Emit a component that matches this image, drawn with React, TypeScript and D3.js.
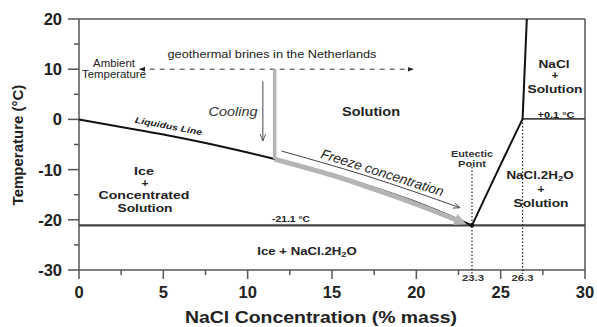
import React from 'react';
import * as d3 from 'd3';

// phase diagram data
const liquidusConc = [0, 2.5, 5, 7.5, 10, 11.6, 15, 17.5, 20, 23.3];
const liquidusTemp = [0, -1.5, -3.0, -4.7, -6.6, -7.9, -10.9, -13.6, -16.5, -21.1];
const hydrohaliteConc = [23.3, 24.8, 26.3];
const hydrohaliteTemp = [-21.1, -10.4, 0.1];
const halite = [26.3, 26.55];
const haliteTemp = [0.1, 20];
const eutecticTemp = -21.1;
const eutecticConc = 23.3;
const transitionConc = 26.3;
const transitionTemp = 0.1;

// process paths
const coolingBrineConc = 11.6;
const coolingBrineTemp = [10, -7.9];
const freezeConc = [11.6, 13, 15, 17.5, 20, 22.5];
const freezeTemp = [-7.9, -9.2, -11.1, -13.9, -16.9, -20.2];
const freezeArrowConc = [12.0, 17, 22.6];
const freezeArrowTemp = [-6.3, -11.2, -17.6];
const coolingArrowConc = 10.9;
const coolingArrowTemp = [7.6, -4.3];
const ambientRange = [3.6, 19.8];
const ambientTemp = 10;

const xTicks = d3.range(0, 30.1, 2.5);
const yTicks = d3.range(-30, 20.1, 5);

const W = 597;
const H = 327;
const font = '"Liberation Sans", Arial, sans-serif';

// plain label, stretched to the width seen in the picture
const Lbl = ({ x, y, w, size, children, weight = 700, italic = false, fill = '#222' }: any) => (
  <text x={x} y={y} textAnchor="middle" fontSize={size} fill={fill} fontFamily={font} fontWeight={weight}
    fontStyle={italic ? 'italic' : 'normal'} textLength={w} lengthAdjust="spacingAndGlyphs">
    {children}
  </text>
);

// NaCl.2H2O with subscript, stretched via transform
const Hydrate = ({ x, y, sx, prefix = '' }: any) => (
  <g transform={`translate(${x},${y}) scale(${sx},1)`}>
    <text textAnchor="middle" fontSize={11.5} fill="#222" fontFamily={font} fontWeight={700}>
      {prefix}NaCl.2H<tspan fontSize={8} dy={2}>2</tspan><tspan dy={-2}>O</tspan>
    </text>
  </g>
);

export default function App() {
  const x = d3.scaleLinear().domain([0, 30]).range([79, 585]);
  const y = d3.scaleLinear().domain([-30, 20]).range([270, 19]);

  const line = d3.line<[number, number]>().x(d => x(d[0])).y(d => y(d[1])).curve(d3.curveMonotoneX);
  const straight = d3.line<[number, number]>().x(d => x(d[0])).y(d => y(d[1]));

  const liq = liquidusConc.map((c, i) => [c, liquidusTemp[i]] as [number, number]);
  const hyd = hydrohaliteConc.map((c, i) => [c, hydrohaliteTemp[i]] as [number, number]);
  const hal = halite.map((c, i) => [c, haliteTemp[i]] as [number, number]);
  const frz = freezeConc.map((c, i) => [c, freezeTemp[i]] as [number, number]);
  const frzArrow = freezeArrowConc.map((c, i) => [c, freezeArrowTemp[i]] as [number, number]);

  const liqAngle = (Math.atan2(y(-4.7) - y(-1.5), x(7.5) - x(2.5)) * 180) / Math.PI;
  const frzAngle = (Math.atan2(y(-17.6) - y(-6.3), x(22.6) - x(12.0)) * 180) / Math.PI;

  const bold = { fontFamily: font, fontWeight: 700 } as const;

  return (
    <svg width={W} height={H} style={{ position: 'absolute', left: 0, top: 0, background: '#fff' }}>
      <defs>
        <marker id="tri" viewBox="0 0 10 10" refX="9" refY="5" markerWidth="6" markerHeight="6" orient="auto-start-reverse" markerUnits="userSpaceOnUse">
          <path d="M0,1 L10,5 L0,9 z" fill="#222" />
        </marker>
        <marker id="thin" viewBox="0 0 10 10" refX="10" refY="5" markerWidth="7" markerHeight="7" orient="auto" markerUnits="userSpaceOnUse">
          <path d="M0,1 L10,5 L0,9" fill="none" stroke="#444" strokeWidth="1.2" />
        </marker>
        <marker id="grey" viewBox="0 0 10 10" refX="3" refY="5" markerWidth="14" markerHeight="12" orient="auto" markerUnits="userSpaceOnUse">
          <path d="M0,0 L10,5 L0,10 z" fill="#b4b4b4" />
        </marker>
      </defs>

      {/* frame */}
      <line x1={x(0)} x2={x(30)} y1={y(20)} y2={y(20)} stroke="#555" strokeWidth={1.5} />
      <line x1={x(30)} x2={x(30)} y1={y(20)} y2={y(-30)} stroke="#555" strokeWidth={1.5} />
      <line x1={x(0)} x2={x(0)} y1={y(20)} y2={y(-30)} stroke="#555" strokeWidth={1.5} />
      <line x1={x(0)} x2={x(30)} y1={y(-30)} y2={y(-30)} stroke="#555" strokeWidth={1.5} />

      {/* y ticks */}
      {yTicks.map(t => {
        const major = t % 10 === 0;
        return (
          <g key={'y' + t}>
            <line x1={x(0) - (major ? 11 : 5)} x2={x(0)} y1={y(t)} y2={y(t)} stroke="#555" strokeWidth={1.5} />
            {major && (
              <text x={62} y={y(t)} dy="0.36em" textAnchor="end" fontSize={16.5} fill="#222" style={bold}>
                {t}
              </text>
            )}
          </g>
        );
      })}

      {/* x ticks */}
      {xTicks.map(t => {
        const major = t % 5 === 0;
        return (
          <g key={'x' + t}>
            <line x1={x(t)} x2={x(t)} y1={y(-30)} y2={y(-30) + (major ? 9 : 5)} stroke="#555" strokeWidth={1.5} />
            {major && (
              <text x={x(t)} y={298} textAnchor="middle" fontSize={16.5} fill="#222" style={bold}>
                {t}
              </text>
            )}
          </g>
        );
      })}

      <Lbl x={321} y={323} w={272} size={16}>NaCl Concentration (% mass)</Lbl>
      <text transform={`translate(23,${145}) rotate(-90)`} textAnchor="middle" fontSize={15} fill="#222" style={bold}>
        Temperature (°C)
      </text>

      {/* eutectic & transition horizontal lines */}
      <line x1={x(0)} x2={x(30)} y1={y(eutecticTemp)} y2={y(eutecticTemp)} stroke="#444" strokeWidth={2.2} />
      <line x1={x(transitionConc)} x2={x(30)} y1={y(transitionTemp)} y2={y(transitionTemp)} stroke="#444" strokeWidth={1.8} />

      {/* dotted verticals */}
      <line x1={x(eutecticConc)} x2={x(eutecticConc)} y1={167} y2={y(-30) + 4} stroke="#222" strokeWidth={1.2} strokeDasharray="1.5 2" />
      <line x1={x(transitionConc)} x2={x(transitionConc)} y1={y(transitionTemp)} y2={y(-30) + 4} stroke="#222" strokeWidth={1.2} strokeDasharray="1.5 2" />

      {/* ambient dashed arrow */}
      <line x1={x(ambientRange[0])} x2={x(ambientRange[1])} y1={y(ambientTemp)} y2={y(ambientTemp)} stroke="#333" strokeWidth={1} strokeDasharray="5 5" markerStart="url(#tri)" markerEnd="url(#tri)" />

      {/* phase boundaries */}
      <path d={line(liq) || ''} fill="none" stroke="#111" strokeWidth={2} />
      <path d={straight(hyd) || ''} fill="none" stroke="#111" strokeWidth={2} />
      <path d={straight(hal) || ''} fill="none" stroke="#111" strokeWidth={2} />

      {/* grey brine path */}
      <line x1={x(coolingBrineConc)} x2={x(coolingBrineConc)} y1={y(coolingBrineTemp[0])} y2={y(coolingBrineTemp[1])} stroke="#b4b4b4" strokeWidth={3.5} />
      <path d={line(frz) || ''} fill="none" stroke="#b4b4b4" strokeWidth={5} markerEnd="url(#grey)" />

      {/* thin arrows */}
      <line x1={x(coolingArrowConc)} x2={x(coolingArrowConc)} y1={y(coolingArrowTemp[0])} y2={y(coolingArrowTemp[1])} stroke="#444" strokeWidth={1} markerEnd="url(#thin)" />
      <path d={line(frzArrow) || ''} fill="none" stroke="#444" strokeWidth={1} markerEnd="url(#thin)" />

      <circle cx={x(eutecticConc)} cy={y(eutecticTemp)} r={2.2} fill="#111" />

      {/* labels */}
      <Lbl x={272} y={58} w={209} size={11} weight={400}>geothermal brines in the Netherlands</Lbl>
      <Lbl x={114} y={67} w={42} size={10} weight={400}>Ambient</Lbl>
      <Lbl x={114} y={78} w={64} size={10} weight={400}>Temperature</Lbl>
      <Lbl x={233} y={116} w={49} size={13} weight={400} italic fill="#333">Cooling</Lbl>
      <Lbl x={371} y={116} w={58} size={12.5}>Solution</Lbl>
      <g transform={`translate(168,129) rotate(${liqAngle})`}>
        <Lbl x={0} y={0} w={68} size={8.5} italic>Liquidus Line</Lbl>
      </g>
      <g transform={`translate(381,177) rotate(${frzAngle})`}>
        <Lbl x={0} y={0} w={128} size={13.5} weight={400} italic>Freeze concentration</Lbl>
      </g>
      <Lbl x={144} y={175} w={20} size={11.5}>Ice</Lbl>
      <Lbl x={145} y={187} w={7} size={11.5}>+</Lbl>
      <Lbl x={144} y={199} w={91} size={11.5}>Concentrated</Lbl>
      <Lbl x={145} y={212} w={55} size={11.5}>Solution</Lbl>
      <Lbl x={291} y={222} w={38} size={8.5}>-21.1 °C</Lbl>
      <Lbl x={472} y={157} w={42} size={9} fill="#333">Eutectic</Lbl>
      <Lbl x={472} y={167} w={28} size={9} fill="#333">Point</Lbl>
      <Lbl x={554} y={68} w={31} size={11.5}>NaCl</Lbl>
      <Lbl x={555} y={79} w={7} size={11.5}>+</Lbl>
      <Lbl x={555} y={93} w={55} size={11.5}>Solution</Lbl>
      <Lbl x={556} y={118} w={37} size={8.5}>+0.1 °C</Lbl>
      <Hydrate x={540} y={179} sx={1.17} />
      <Lbl x={541} y={193} w={7} size={11.5}>+</Lbl>
      <Lbl x={541} y={207} w={55} size={11.5}>Solution</Lbl>
      <Hydrate x={307} y={255} sx={1.15} prefix="Ice + " />
      <Lbl x={x(eutecticConc) + 1} y={281} w={22} size={8.5} fill="#333">23.3</Lbl>
      <Lbl x={x(transitionConc)} y={281} w={22} size={8.5} fill="#333">26.3</Lbl>
    </svg>
  );
}
